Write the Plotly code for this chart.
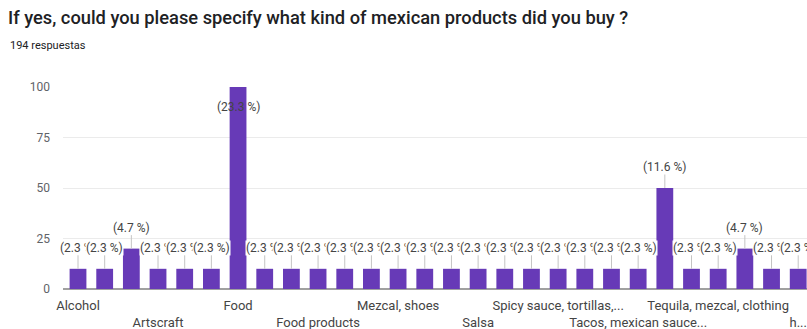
import plotly.graph_objects as go

# Survey question and response count
title_text = "If yes, could you please specify what kind of mexican products did you buy ?"
subtitle_text = "194 respuestas"

# Bar values, one per product answer (in chart order)
values = [10, 10, 20, 10, 10, 10, 100, 10, 10, 10, 10, 10, 10, 10,
          10, 10, 10, 10, 10, 10, 10, 10, 50, 10, 10, 20, 10, 10]

# Category labels shown under the axis (every third answer) and their positions
label_positions = [0, 3, 6, 9, 12, 15, 18, 21, 24, 27]
label_names = ["Alcohol", "Artscraft", "Food", "Food products", "Mezcal, shoes",
               "Salsa", "Spicy sauce, tortillas,...", "Tacos, mexican sauce...",
               "Tequila, mezcal, clothing", "h..."]

y_ticks = [0, 25, 50, 75, 100]

BAR = "#673ab7"
TEXT = "#444444"
W, H = 807, 329
ML, MR, MT, MB = 63, 0, 87, 40

x = list(range(len(values)))
total = sum(values)

# staggered two-row category labels
tick_text = [name if k % 2 == 0 else "<br>" + name for k, name in enumerate(label_names)]

fig = go.Figure(go.Bar(
    x=x, y=values, marker_color=BAR, marker_line_width=0, width=0.63,
    hoverinfo="skip",
))

annotations = []
for i, v in enumerate(values):
    pct = v / total * 100
    txt = f"({pct:.1f} %)"
    if v >= max(values):
        # no room above the tallest bar: label sits inside its top
        annotations.append(dict(
            x=i, y=v, xref="x", yref="y", text=txt, showarrow=False,
            yanchor="middle", yshift=-20,
            font=dict(size=12, color=TEXT, family="Roboto"),
        ))
    else:
        annotations.append(dict(
            x=i, y=v, xref="x", yref="y", text=txt, showarrow=True,
            arrowhead=0, arrowwidth=1, arrowcolor="#c4c4c4",
            ax=0, ay=-21, standoff=0,
            bgcolor="white", borderpad=0,
            font=dict(size=12, color=TEXT, family="Roboto"),
        ))

plot_w = W - ML - MR
plot_h = H - MT - MB
annotations.append(dict(
    xref="paper", yref="paper",
    x=(8 - ML) / plot_w, y=(H - MB - 45) / plot_h,
    xanchor="left", yanchor="middle", showarrow=False,
    text=subtitle_text, font=dict(size=11, color="#202124", family="Roboto"),
))

fig.update_layout(
    width=W, height=H,
    margin=dict(l=ML, r=MR, t=MT, b=MB),
    paper_bgcolor="white", plot_bgcolor="white",
    showlegend=False,
    title=dict(
        text=title_text, x=8 / W, xref="container", xanchor="left",
        y=1 - 18 / H, yref="container", yanchor="middle",
        font=dict(size=18.3, color="#202124", family="Roboto", weight=500),
    ),
    annotations=annotations,
    xaxis=dict(
        range=[-0.5625, 27.33], tickmode="array",
        tickvals=label_positions, ticktext=tick_text,
        showgrid=False, zeroline=False, showline=False, ticks="",
        ticklabelstandoff=7,
        tickfont=dict(size=13, color=TEXT, family="Roboto"),
        tickangle=0, fixedrange=True,
    ),
    yaxis=dict(
        range=[0, 100], tickmode="array", tickvals=y_ticks,
        showgrid=True, gridcolor="#ebebeb", gridwidth=1,
        zeroline=True, zerolinecolor="#a0a0a0", zerolinewidth=2,
        showline=False, ticks="", ticklabelstandoff=12,
        tickfont=dict(size=12, color="#5f6368", family="Roboto"),
        fixedrange=True,
    ),
)

fig.write_html("out.html", config={"displayModeBar": False})
